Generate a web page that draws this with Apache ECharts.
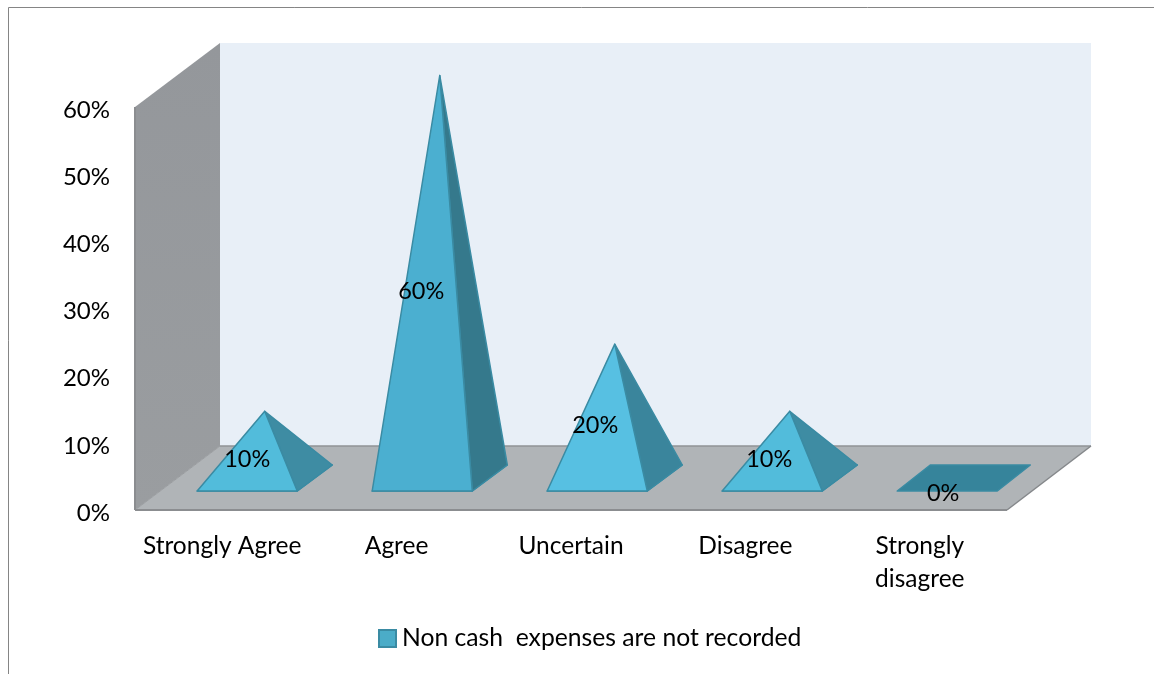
<!DOCTYPE html>
<html><head><meta charset="utf-8">
<style>html,body{margin:0;padding:0;background:#fff}#c{width:1154px;height:674px}</style>
<script src="https://cdn.jsdelivr.net/npm/echarts@6/dist/echarts.min.js"></script>
</head><body><div id="c"></div>
<script>
const categories = ['Strongly Agree', 'Agree', 'Uncertain', 'Disagree', 'Strongly\ndisagree'];
const values = [10, 60, 20, 10, 0];
const frontColors = ['#52bcdb', '#4bafd0', '#57c0e2', '#52bcdb', '#36849b'];
const sideColors = ['#3e8ca3', '#35798c', '#3a859c', '#3e8ca3', '#36849b'];
const seriesName = 'Non cash  expenses are not recorded';
const FONT = 'Lato, "Open Sans", sans-serif';
const DX = 85, DY = -64;

const chart = echarts.init(document.getElementById('c'), null, {renderer: 'canvas'});

function renderWalls(params) {
  const g = params.coordSys;
  const l = g.x, r = g.x + g.width, t = g.y, b = g.y + g.height;
  const rb = r + DX - 1;
  const poly = (points, fill, stroke, lw) => ({
    type: 'polygon', shape: {points},
    style: {fill, stroke: stroke || null, lineWidth: lw || 0}
  });
  const line = (x1, y1, x2, y2, stroke, lw) => ({
    type: 'line', shape: {x1, y1, x2, y2}, style: {stroke, lineWidth: lw}
  });
  return {type: 'group', silent: true, children: [
    poly([[l + DX, t + DY], [rb, t + DY], [rb, b + DY], [l + DX, b + DY]], '#e8eff7'),
    poly([[l, t], [l + DX, t + DY], [l + DX, b + DY], [l, b]],
      new echarts.graphic.LinearGradient(0, 0, 0, 1, [
        {offset: 0, color: '#94979b'}, {offset: 1, color: '#9a9da0'}])),
    poly([[l, b], [l + DX, b + DY], [rb, b + DY], [r, b]], '#b0b4b7'),
    line(l + DX, b + DY, rb, b + DY, '#909396', 1.5),
    line(l, b, l + DX, b + DY, '#9a9da0', 1),
    line(r, b, rb, b + DY, '#85888b', 1.5),
    line(l, b, r, b, '#8b8d90', 2),
    line(l, t, l, b, '#8b8d90', 2)
  ]};
}

function renderPyramid(params, api) {
  const i = api.value(0), v = api.value(1);
  const band = api.size([1, 0])[0];
  const half = band * 0.287;
  const floor = api.coord([i, 0]);
  const cx = floor[0] + band * 0.1435 + i * band * 0.0035;
  const yf = floor[1] - 19;
  const bx = v > 0 ? 35 : 33, by = -26;
  const apex = [cx + 17.5, api.coord([i, v])[1] - 31.5];
  const stroke = '#3a8ba3';
  const fl = [cx - half, yf], fr = [cx + half, yf];
  const bl = [fl[0] + bx, yf + by], br = [fr[0] + bx, yf + by];
  const labelX = floor[0] + band * 0.1435 - i * band * 0.0023;
  const labelY = api.coord([i, v / 2])[1] - 17;
  const face = (points, fill) => ({
    type: 'polygon', shape: {points},
    style: {fill, stroke, lineWidth: 1.5, lineJoin: 'round'}
  });
  const children = [face([fl, fr, br, bl], sideColors[i])];
  if (v > 0) {
    children.push(face([fr, br, apex], sideColors[i]));
    children.push(face([fl, fr, apex], frontColors[i]));
  }
  children.push({
    type: 'text',
    style: {text: v + '%', x: labelX, y: labelY, fill: '#000', font: '23.5px ' + FONT,
      textAlign: 'center', textVerticalAlign: 'middle'}
  });
  return {type: 'group', children};
}

chart.setOption({
  animation: false,
  backgroundColor: '#fff',
  grid: {left: 135, top: 107, width: 872, height: 403, containLabel: false},
  graphic: [
    {type: 'line', shape: {x1: 8.5, y1: 7.5, x2: 1154, y2: 7.5}, style: {stroke: '#858585', lineWidth: 1}, z: 0},
    {type: 'line', shape: {x1: 8.5, y1: 7.5, x2: 8.5, y2: 674}, style: {stroke: '#858585', lineWidth: 1}, z: 0}
  ],
  xAxis: {
    type: 'category', data: categories,
    axisLine: {show: false}, axisTick: {show: false},
    axisLabel: {interval: 0, color: '#000', fontFamily: FONT, fontSize: 24.5, margin: 20, lineHeight: 33}
  },
  yAxis: {
    type: 'value', min: 0, max: 60, interval: 10,
    axisLine: {show: false}, axisTick: {show: false}, splitLine: {show: false},
    axisLabel: {
      formatter: v => '{a|' + v + '%}', margin: 25,
      rich: {a: {color: '#000', fontFamily: FONT, fontSize: 24, padding: [6, 0, 0, 0]}}
    }
  },
  legend: {
    data: [{name: seriesName, icon: 'rect'}],
    left: 373, top: 621, itemWidth: 17, itemHeight: 17, itemGap: 3, selectedMode: false,
    textStyle: {color: '#000', fontFamily: FONT, fontSize: 24.7, padding: [0, 0, 0, 1]}
  },
  series: [
    {type: 'custom', name: 'walls', silent: true, z: 1, clip: false,
      data: [[0, 0]], renderItem: renderWalls, encode: {x: 0, y: 1}},
    {type: 'custom', name: seriesName, z: 2, clip: false,
      itemStyle: {color: '#4bacc8', borderColor: '#3a8ba3', borderWidth: 1.5},
      data: categories.map((c, i) => [i, values[i]]),
      renderItem: renderPyramid, encode: {x: 0, y: 1}}
  ]
});
</script></body></html>
